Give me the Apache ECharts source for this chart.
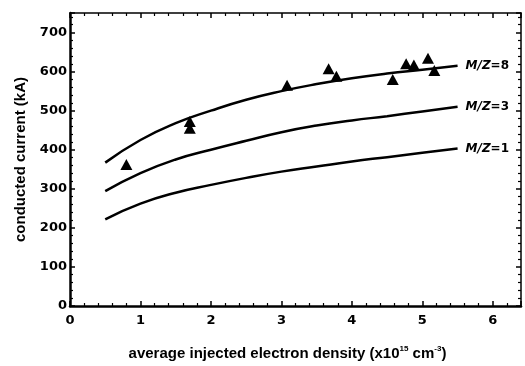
<!DOCTYPE html>
<html>
<head>
<meta charset="utf-8">
<script src="https://cdn.jsdelivr.net/npm/echarts@6/dist/echarts.min.js"></script>
<style>html,body{margin:0;padding:0;background:#fff;}#c{width:525px;height:366px;}</style>
</head>
<body>
<div id="c"></div>
<script>
// Curve sample points (x: average injected electron density, 1e15 cm^-3)
var curveX = [0.5, 1, 1.5, 2, 2.5, 3, 3.5, 4, 4.5, 5, 5.5];
var mz1 = [222, 262, 290, 310, 328, 344, 357, 370, 381, 392, 403];
var mz3 = [294, 340, 375, 400, 423, 445, 462, 475, 486, 498, 510];
var mz8 = [367, 425, 468, 500, 528, 550, 568, 583, 595, 605, 615];
var curveNames = ['1', '3', '8'];
// Measured points (triangles)
var measX = [0.8, 1.7, 1.7, 3.08, 3.67, 3.78, 4.58, 4.77, 4.88, 5.08, 5.17];
var measY = [362, 472, 455, 565, 607, 588, 580, 620, 617, 634, 603];
var xTicks = [0, 1, 2, 3, 4, 5, 6];
var yTicks = [0, 100, 200, 300, 400, 500, 600, 700];

function pairs(xs, ys) { return xs.map(function (x, i) { return [x, ys[i]]; }); }

var font = 'Liberation Sans, Arial, Helvetica, sans-serif';
var wide = 'DejaVu Sans, Liberation Sans, sans-serif';
function axisCommon(main) {
  return {
    axisLine: { show: true, onZero: false, lineStyle: { color: '#000', width: main ? 2.5 : 1.5 } },
    axisTick: { show: true, inside: true, length: 5, lineStyle: { color: '#000', width: 1.5 } },
    minorTick: { show: true, splitNumber: 5, length: 3, lineStyle: { color: '#000', width: 1.2 } },
    splitLine: { show: false },
    minorSplitLine: { show: false }
  };
}

var labelStyle = { color: '#000', fontFamily: wide, fontWeight: 'bold', fontSize: 13 };

var xBottom = Object.assign(axisCommon(true), {
  type: 'value', position: 'bottom', min: 0, max: 6.4, interval: 1,
  name: 'average injected electron density (x10{s|15} cm{s|-3})',
  nameLocation: 'middle', nameGap: 39,
  nameTextStyle: { color: '#000', fontFamily: font, fontSize: 15, fontWeight: 'bold', padding: [0, 16, 0, 0], rich: { s: { fontSize: 8, fontFamily: font, fontWeight: 'bold', verticalAlign: 'top', padding: [0, 0, 9, 0] } } },
  axisLabel: Object.assign({ margin: 8, showMaxLabel: false, formatter: function (v) { return xTicks.indexOf(v) >= 0 ? String(v) : ''; } }, labelStyle)
});
var xTop = Object.assign(axisCommon(false), {
  type: 'value', position: 'top', min: 0, max: 6.4, interval: 1, axisLabel: { show: false }
});
var yLeft = Object.assign(axisCommon(true), {
  type: 'value', position: 'left', min: 0, max: 750, interval: 100,
  name: 'conducted current (kA)', nameLocation: 'middle', nameGap: 42, nameRotate: 90,
  nameTextStyle: { color: '#000', fontFamily: font, fontSize: 15, fontWeight: 'bold' },
  axisLabel: Object.assign({ margin: 3, showMaxLabel: false, formatter: function (v) { return yTicks.indexOf(v) >= 0 ? String(v) : ''; } }, labelStyle)
});
var yRight = Object.assign(axisCommon(false), {
  type: 'value', position: 'right', min: 0, max: 750, interval: 100, axisLabel: { show: false }
});

function curve(data, n) {
  return {
    type: 'line', xAxisIndex: 0, yAxisIndex: 0, smooth: true, showSymbol: false, symbol: 'none',
    data: data, lineStyle: { color: '#000', width: 2.5 }, silent: true,
    endLabel: {
      show: true, distance: 8, formatter: '{i|M/Z}{n|=' + n + '}',
      rich: {
        i: { fontFamily: wide, fontStyle: 'italic', fontWeight: 'bold', fontSize: 12, color: '#000' },
        n: { fontFamily: wide, fontWeight: 'bold', fontSize: 12, color: '#000' }
      }
    }
  };
}

var chart = echarts.init(document.getElementById('c'), null, { renderer: 'canvas' });
chart.setOption({
  animation: false,
  backgroundColor: '#fff',
  grid: { left: 70, right: 4, top: 13, bottom: 56, containLabel: false },
  xAxis: [xBottom, xTop],
  yAxis: [yLeft, yRight],
  series: [
    curve(pairs(curveX, mz1), curveNames[0]),
    curve(pairs(curveX, mz3), curveNames[1]),
    curve(pairs(curveX, mz8), curveNames[2]),
    {
      type: 'scatter', xAxisIndex: 0, yAxisIndex: 0, symbol: 'triangle', symbolSize: [12, 11],
      itemStyle: { color: '#000', opacity: 1 }, data: pairs(measX, measY), z: 5
    }
  ]
});
</script>
</body>
</html>
